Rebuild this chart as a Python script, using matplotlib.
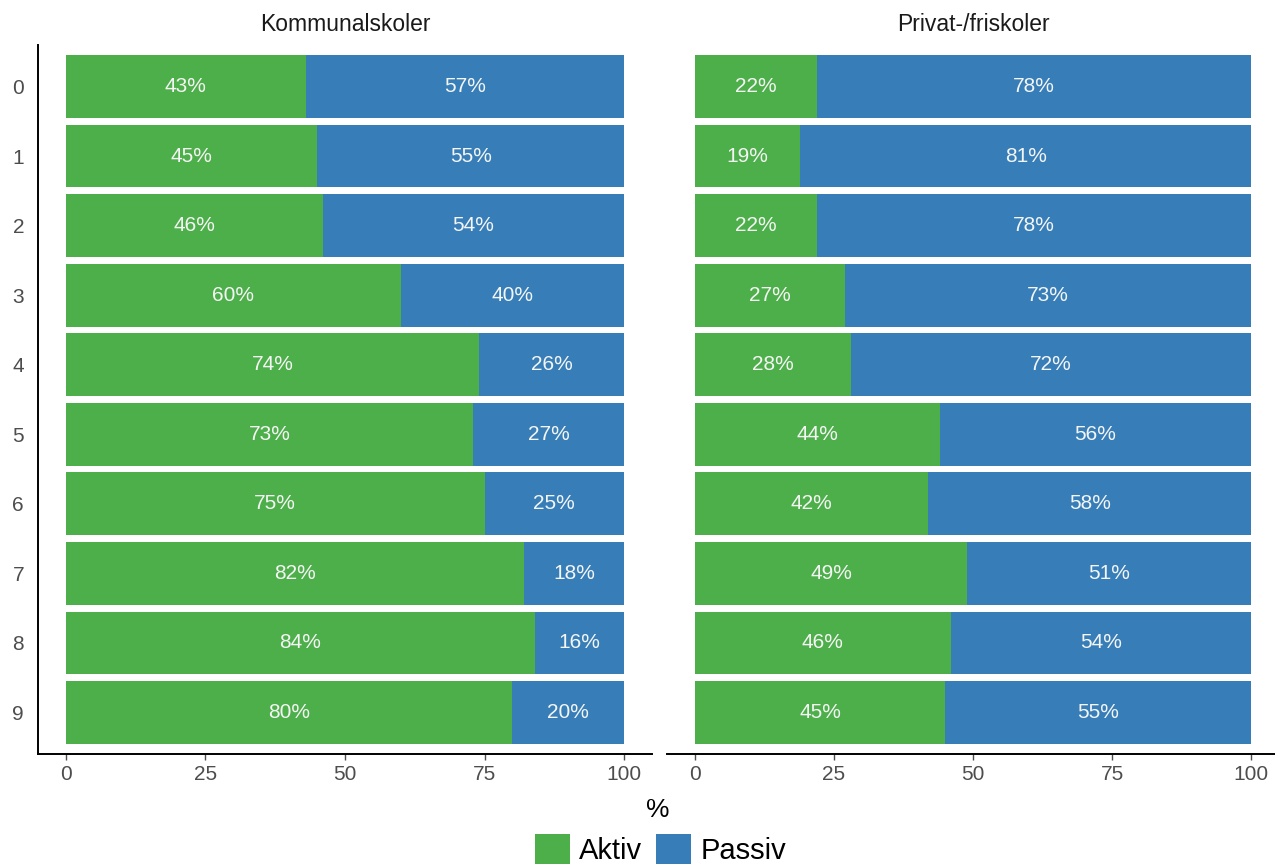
import matplotlib.pyplot as plt
import numpy as np
from matplotlib.patches import Patch

plt.rcParams['font.family'] = ['Liberation Sans', 'DejaVu Sans']

# data
trinn = ['0', '1', '2', '3', '4', '5', '6', '7', '8', '9']
kommunal_aktiv = [43, 45, 46, 60, 74, 73, 75, 82, 84, 80]
kommunal_passiv = [57, 55, 54, 40, 26, 27, 25, 18, 16, 20]
privat_aktiv = [22, 19, 22, 27, 28, 44, 42, 49, 46, 45]
privat_passiv = [78, 81, 78, 73, 72, 56, 58, 51, 54, 55]
panels = ['Kommunalskoler', 'Privat-/friskoler']
series = ['Aktiv', 'Passiv']

GREEN = '#4DAF4A'
BLUE = '#377EB8'
GREY = '#4D4D4D'

fig = plt.figure(figsize=(12.75, 8.65), dpi=100)
ax1 = fig.add_axes([0.0298, 0.1283, 0.4816, 0.8197])
ax2 = fig.add_axes([0.5231, 0.1283, 0.4800, 0.8197])

y = np.arange(len(trinn))
for ax, title, aktiv, passiv in [(ax1, panels[0], kommunal_aktiv, kommunal_passiv),
                                 (ax2, panels[1], privat_aktiv, privat_passiv)]:
    ax.barh(y, aktiv, height=0.9, color=GREEN, linewidth=0)
    ax.barh(y, passiv, left=aktiv, height=0.9, color=BLUE, linewidth=0)
    for yi, a, p in zip(y, aktiv, passiv):
        ax.text(a / 2, yi, f'{a}%', ha='center', va='center', color='#F5F5F5', fontsize=15)
        ax.text(a + p / 2, yi, f'{p}%', ha='center', va='center', color='#F5F5F5', fontsize=15)
    ax.set_xlim(-5, 105)
    ax.set_ylim(9.6, -0.6)
    ax.set_xticks([0, 25, 50, 75, 100])
    ax.set_yticks(y)
    ax.tick_params(axis='x', length=4, width=1, color=GREY, labelcolor=GREY, labelsize=15, pad=4)
    ax.tick_params(axis='y', length=0, labelcolor=GREY, labelsize=15, pad=10)
    for s in ['top', 'right']:
        ax.spines[s].set_visible(False)
    ax.spines['bottom'].set_linewidth(1.4)
    ax.spines['left'].set_linewidth(1.4)
    ax.set_title(title, fontsize=16.5, color='#1A1A1A', pad=10)

ax1.set_yticklabels(trinn)
ax2.set_yticklabels([])
ax2.spines['left'].set_visible(False)

fig.text(0.516, 0.064, '%', ha='center', va='center', fontsize=19)

handles = [Patch(facecolor=GREEN, label=series[0]), Patch(facecolor=BLUE, label=series[1])]
fig.legend(handles=handles, loc='center', bbox_to_anchor=(0.518, 0.018), ncol=2, frameon=False,
           fontsize=21, handlelength=1.2, handleheight=1.2, handletextpad=0.3,
           columnspacing=0.5, borderpad=0)

fig.savefig('out.png', dpi=100)
